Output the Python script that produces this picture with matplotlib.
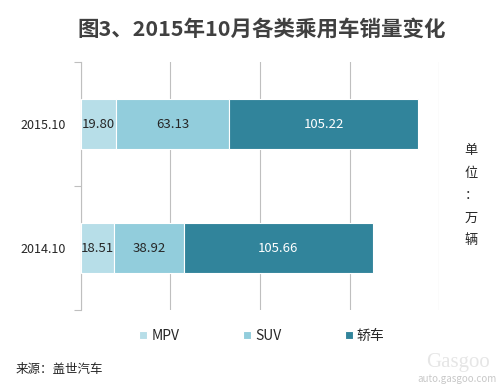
import matplotlib
matplotlib.use("Agg")
import matplotlib.pyplot as plt
import numpy as np

plt.rcParams['font.family'] = ['Noto Sans CJK SC', 'DejaVu Sans']

categories = ['2014.10', '2015.10']
series_names = ['MPV', 'SUV', '轿车']
mpv = [18.51, 19.80]
suv = [38.92, 63.13]
sedan = [105.66, 105.22]
colors = ['#b7dee8', '#92cddc', '#31849b']
label_colors = ['#262626', '#262626', 'white']

fig = plt.figure(figsize=(5.02, 3.85), dpi=100)
ax = fig.add_axes([81/502, 1-310/385, (439-81)/502, (310-62)/385])

y = np.arange(len(categories))
left = np.zeros(len(categories))
for vals, c, lc, name in zip([mpv, suv, sedan], colors, label_colors, series_names):
    bars = ax.barh(y, vals, left=left, height=0.4, color=c, edgecolor='white',
                   linewidth=0.8, label=name, zorder=3)
    for yi, v, l in zip(y, vals, left):
        ax.text(l + v/2, yi, f'{v:.2f}', ha='center', va='center',
                fontsize=9.5, color=lc, zorder=4)
    left = left + np.array(vals)

ax.set_xlim(0, 200)
ax.set_ylim(-0.5, 1.5)
ax.set_xticks([0, 50, 100, 150, 200])
ax.set_xticklabels([])
ax.tick_params(axis='x', length=0)
ax.grid(axis='x', color='#bfbfbf', linewidth=0.8, zorder=0)
ax.set_yticks(y)
ax.set_yticklabels(categories, fontsize=9, color='#262626')
ax.tick_params(axis='y', which='major', length=0, pad=11)
ax.set_yticks([-0.5, 0.5, 1.5], minor=True)
ax.tick_params(axis='y', which='minor', length=5, color='#bfbfbf', width=0.8)
for s in ['top', 'right', 'bottom']:
    ax.spines[s].set_visible(False)
ax.spines['left'].set_color('#bfbfbf')
ax.spines['left'].set_linewidth(0.8)

fig.text(262/502, 1-29/385, '图3、2015年10月各类乘用车销量变化', ha='center', va='center',
         fontsize=15.5, fontweight='bold', color='#404040')

fig.text(471/502, 1-196/385, '单\n位\n：\n万\n辆', ha='center', va='center',
         fontsize=9.5, color='#262626', linespacing=1.95)

handles, labels = ax.get_legend_handles_labels()
leg = fig.legend(handles, labels, loc='center', bbox_to_anchor=(262/502, 1-336/385),
                 ncol=3, frameon=False, fontsize=10, handlelength=0.55, handleheight=0.55,
                 handletextpad=0.3, columnspacing=4.6)
for t in leg.get_texts():
    t.set_color('#262626')

fig.text(16/502, 1-370/385, '来源：盖世汽车', ha='left', va='center', fontsize=9,
         color='#262626', style='italic')
fig.text(497/502, 1-379/385, 'auto.gasgoo.com', ha='right', va='center', fontsize=7,
         color='#c8c8c8')
fig.text(490/502, 1-362/385, 'Gasgoo', ha='right', va='center', fontsize=15,
         color='#e6e6e6', family='Liberation Serif')

fig.savefig('out.png', dpi=100)
